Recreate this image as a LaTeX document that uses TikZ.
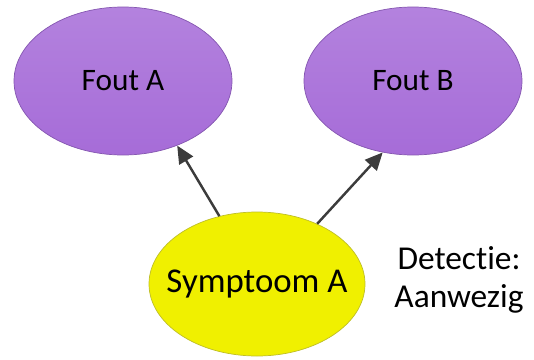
\documentclass[tikz,border=0pt]{standalone}
\usepackage{fontspec}
\setmainfont[Ligatures=NoCommon]{Carlito}
\usetikzlibrary{shapes.geometric,arrows.meta}
\definecolor{foutfill}{RGB}{166,108,216}
\definecolor{foutline}{RGB}{132,86,176}
\definecolor{symfill}{RGB}{240,240,0}
\definecolor{symline}{RGB}{190,190,40}
\definecolor{pijl}{RGB}{60,60,60}
\tikzset{
  fout/.style={ellipse, draw=foutline, top color=foutfill!85!white, bottom color=foutfill,
    minimum width=4.36cm, minimum height=2.96cm, inner sep=0pt, font=\fontsize{17.8}{21}\selectfont},
  symptoom/.style={ellipse, draw=symline, fill=symfill,
    minimum width=4.32cm, minimum height=2.88cm, inner xsep=-0.45cm, inner ysep=0pt,
    font=\fontsize{19.8}{23}\selectfont},
  pijlstijl/.style={draw=pijl, line width=1.4pt, -{Triangle[length=10pt,width=9pt]}}
}
\begin{document}
\begin{tikzpicture}
            % Two faults and one symptom that points to both
            \useasboundingbox (0,0) rectangle (10.68,7.18);
            \node[fout] (foutA) at (2.46,5.56) {Fout A};
            \node[fout] (foutB) at (8.26,5.56) {Fout B};
            \node[symptoom] (symA) at (5.14,1.5) {Symptoom A};
            \node[align=center, font=\fontsize{19}{21.5}\selectfont] (detectie) at (9.18,1.58) {Detectie:\\Aanwezig};
            \draw[pijlstijl] (symA.119) -- (foutA.310);
            \draw[pijlstijl] (symA.45) -- (foutB.247);
            \end{tikzpicture}
\end{document}
